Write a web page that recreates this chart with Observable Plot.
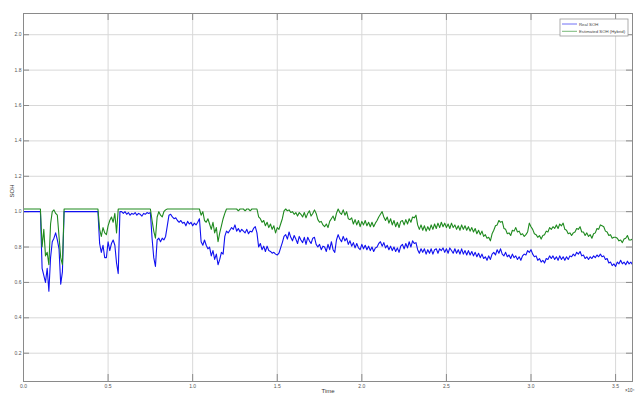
<!DOCTYPE html>
<html><head><meta charset="utf-8">
<script src="https://cdn.jsdelivr.net/npm/d3@7"></script>
<script src="https://cdn.jsdelivr.net/npm/@observablehq/plot@0.6"></script>
<style>
body{margin:0;background:#fff;}
#wrap{position:relative;width:635px;height:394px;overflow:hidden;}
</style></head>
<body><div id="wrap"></div>
<script>
// x axis in units of 10^4 (Time), sampled every 0.01
const xTicks = [0, 0.5, 1, 1.5, 2, 2.5, 3, 3.5];
const yTicks = [0.2, 0.4, 0.6, 0.8, 1, 1.2, 1.4, 1.6, 1.8, 2];
const seriesNames = ["Real SOH", "Estimated SOH (Hybrid)"];

const realSOH = [
 1,1,1,1,1,1,1,1,1,1, 1,
 0.68,0.64,0.60,0.68,0.55,0.74,0.83,0.85,0.88,0.84,0.79,0.59,0.66,
 1,1,1,1,1,1,1,1,1,1,1,1,1,1,1,1,1,1,1,1, 1,
 0.82,0.77,0.81,0.74,0.74,0.83,0.78,0.82,0.84,0.81,0.71,0.65,
 1,1,0.99,1,0.985,0.995,0.98,0.99,0.985,0.995,0.98,0.99,0.985,0.975,0.99,0.985,0.995,0.99,0.995,
 0.85,0.74,0.69,0.84,0.85,0.83,0.85,0.84,0.86,0.92,0.98,
 0.985,0.97,0.96,0.965,0.95,0.94,0.95,0.935,0.94,0.92,0.945,0.93,0.94,0.92,0.935,0.925,0.94,0.96,
 0.83,0.81,0.84,0.81,0.79,0.80,0.75,0.78,0.73,0.76,0.70,0.73,0.77,0.76,0.86,0.89,0.88,
 0.895,0.91,0.90,0.925,0.89,0.905,0.885,0.90,0.89,0.88,0.90,0.875,0.89,0.885,0.905,0.915,0.88,
 0.80,0.82,0.785,0.805,0.775,0.805,0.78,0.775,0.765,0.77,0.76,0.755,0.765,0.795,0.825,0.86,0.87,0.845,0.885,0.855,
 0.835,0.865,0.845,0.82,0.86,0.84,0.825,0.855,0.815,0.855,0.835,0.82,0.85,0.855,0.815,0.80,0.815,0.785,0.805,0.80,
 0.775,0.815,0.785,0.83,0.785,0.77,
 0.84,0.87,0.845,0.83,0.86,0.835,0.85,0.815,0.835,0.805,0.825,0.795,0.82,0.795,0.785,0.815,0.79,0.81,0.785,0.805,
 0.78,0.80,0.775,0.795,0.80,0.82,0.83,0.805,0.825,0.795,0.81,0.785,0.805,0.78,0.80,0.775,0.795,0.77,0.805,
 0.815,0.79,0.82,0.795,0.83,0.80,0.835,0.82,0.825,0.785,
 0.765,0.79,0.77,0.79,0.76,0.785,0.765,0.79,0.76,0.785,
 0.79,0.765,0.79,0.78,0.795,0.77,0.79,0.765,0.795,0.78,
 0.765,0.79,0.765,0.785,0.76,0.79,0.76,0.78,0.755,0.78,
 0.755,0.775,0.75,0.77,0.745,0.765,0.74,0.76,0.735,0.745,
 0.725,0.75,0.73,0.76,0.77,0.755,0.785,0.765,0.79,0.76,
 0.75,0.77,0.745,0.755,0.735,0.76,0.74,0.75,0.73,0.745,
 0.725,0.75,0.76,0.755,0.78,0.77,0.785,0.76,0.745,0.75,
 0.725,0.735,0.715,0.725,0.71,0.735,0.73,0.75,0.735,0.75,
 0.73,0.745,0.725,0.75,0.73,0.745,0.725,0.745,0.73,0.75,
 0.745,0.76,0.75,0.77,0.76,0.775,0.75,0.755,0.735,0.745,
 0.73,0.745,0.735,0.75,0.74,0.755,0.745,0.76,0.745,0.75,
 0.73,0.735,0.71,0.715,0.695,0.705,0.69,0.715,0.705,0.725,
 0.705,0.715,0.70,0.72,0.705,0.715,0.70
];

const estimatedSOH = [
 1.015,1.015,1.015,1.015,1.015,1.015,1.015,1.015,1.015,1.015,1.015,
 0.80,0.90,0.75,0.77,0.70,0.93,1.0,1.01,0.99,0.98,0.86,0.74,0.70,
 1.015,1.015,1.015,1.015,1.015,1.015,1.015,1.015,1.015,1.015,1.015,1.015,1.015,1.015,1.015,1.015,1.015,1.015,1.015,1.015,1.015,
 0.90,0.86,0.91,0.88,0.87,0.92,0.95,0.97,0.94,0.99,0.88,
 1.015,1.015,1.015,1.015,1.015,1.015,1.015,1.015,1.015,1.015,1.015,1.015,1.015,1.015,1.015,1.015,1.015,1.015,1.015,1.015,
 0.95,0.89,0.85,0.97,1.0,0.98,0.97,1.0,1.01,
 1.015,1.015,1.015,1.015,1.015,1.015,1.015,1.015,1.015,1.015,1.015,1.015,1.015,1.015,1.015,1.015,1.015,1.015,1.015,1.015,
 0.98,1.0,0.95,0.94,0.96,0.93,0.90,0.94,0.88,0.91,0.83,0.88,0.92,0.96,0.99,
 1.015,1.015,1.015,1.015,1.015,1.015,1.015,1.005,1.015,1.015,1.015,1.005,1.015,1.015,1.005,1.015,1.015,1.015,1.015,
 0.97,0.96,0.94,0.95,0.92,0.94,0.91,0.93,0.90,0.92,0.88,0.91,0.90,0.93,0.96,1.005,1.015,1.005,1.01,0.995,
 1.0,0.985,0.995,0.975,0.995,0.985,0.97,0.995,0.965,0.99,1.005,0.975,0.99,1.01,0.99,0.955,0.94,0.945,0.925,0.915,
 0.93,0.91,0.945,0.96,0.975,0.95,
 0.99,1.015,0.995,0.985,1.01,0.98,1.0,0.96,0.955,0.965,0.93,0.955,0.925,0.95,0.915,0.945,0.925,0.95,0.92,0.94,
 0.915,0.94,0.915,0.935,0.95,0.97,0.985,1.0,0.97,0.95,0.97,0.935,0.96,0.925,0.95,0.915,0.94,0.91,0.945,
 0.95,0.925,0.955,0.93,0.96,0.94,0.97,0.965,0.98,0.925,
 0.90,0.925,0.895,0.92,0.89,0.915,0.895,0.925,0.90,0.93,
 0.905,0.935,0.91,0.94,0.915,0.935,0.91,0.93,0.905,0.935,
 0.91,0.925,0.90,0.92,0.895,0.925,0.90,0.92,0.895,0.915,
 0.89,0.91,0.885,0.905,0.875,0.895,0.87,0.89,0.86,0.87,
 0.85,0.855,0.835,0.875,0.895,0.92,0.925,0.95,0.94,0.945,
 0.905,0.90,0.875,0.88,0.865,0.895,0.89,0.91,0.885,0.89,
 0.87,0.875,0.86,0.87,0.885,0.935,0.915,0.90,0.875,0.87,
 0.855,0.865,0.845,0.865,0.87,0.89,0.885,0.91,0.90,0.915,
 0.905,0.925,0.905,0.93,0.92,0.935,0.90,0.895,0.875,0.88,
 0.865,0.88,0.885,0.905,0.90,0.915,0.885,0.885,0.865,0.88,
 0.86,0.87,0.85,0.875,0.88,0.905,0.90,0.925,0.92,0.915,
 0.89,0.885,0.865,0.87,0.85,0.855,0.855,0.85,0.835,0.84,
 0.825,0.845,0.85,0.865,0.84,0.84,0.845
];

const step = 0.01;
const realData = realSOH.map((v, i) => ({t: i * step, v}));
const estData = estimatedSOH.map((v, i) => ({t: i * step, v}));

const W = 635, H = 394, mL = 23, mR = 3, mT = 13, mB = 13;
const plotW = W - mL - mR, plotH = H - mT - mB;
const axisColor = "#8a8a8a", gridColor = "#d8d8d8";
const blue = "#1010f0", green = "#1f8a1f";

const chart = Plot.plot({
  width: W, height: H,
  marginLeft: mL, marginRight: mR, marginTop: mT, marginBottom: mB,
  style: {fontFamily: "'Liberation Sans', Arial, sans-serif", background: "#fff"},
  x: {domain: [0, 3.6], axis: null},
  y: {domain: [0.04, 2.12], axis: null},
  marks: [
    Plot.gridX(xTicks, {stroke: gridColor, strokeOpacity: 1}),
    Plot.gridY(yTicks, {stroke: gridColor, strokeOpacity: 1}),
    Plot.tickX(xTicks, {x: d => d, insetTop: plotH - 7, stroke: axisColor}),
    Plot.tickX(xTicks, {x: d => d, insetBottom: plotH - 7, stroke: axisColor}),
    Plot.tickY(yTicks, {y: d => d, insetRight: plotW - 6, stroke: axisColor}),
    Plot.tickY(yTicks, {y: d => d, insetLeft: plotW - 6, stroke: axisColor}),
    Plot.line(realData, {x: "t", y: "v", stroke: blue, strokeWidth: 1.1}),
    Plot.line(estData, {x: "t", y: "v", stroke: green, strokeWidth: 1.1}),
    Plot.frame({stroke: axisColor}),
    Plot.axisX({ticks: xTicks, tickSize: 0, tickPadding: 3, fontSize: 5, label: null, color: "#555"}),
    Plot.axisY({ticks: yTicks, tickSize: 0, tickPadding: 2, fontSize: 5, label: null, color: "#555"}),
    Plot.text(["SOH"], {text: d => d, frameAnchor: "left", dx: -11, rotate: -90, fontSize: 6, fill: "#333"}),
    Plot.text(["Time"], {text: d => d, frameAnchor: "bottom", dy: 11, fontSize: 6, fill: "#333"}),
    Plot.text(["×10⁴"], {text: d => d, frameAnchor: "bottom-right", dy: 10, dx: 2, textAnchor: "end", fontSize: 4.5, fill: "#444"})
  ]
});
document.getElementById("wrap").appendChild(chart);

// legend box (top-right inside the plot)
const svg = d3.select(chart);
const lg = svg.append("g").attr("transform", "translate(560,19)");
lg.append("rect").attr("width", 68).attr("height", 17).attr("fill", "#fff").attr("stroke", "#9a9a9a").attr("stroke-width", 0.8);
const colors = [blue, green];
seriesNames.forEach((name, i) => {
  const y = 5 + i * 7.3;
  lg.append("line").attr("x1", 2).attr("x2", 17).attr("y1", y).attr("y2", y)
    .attr("stroke", colors[i]).attr("stroke-width", 1).attr("stroke-opacity", 0.6);
  lg.append("text").attr("x", 19).attr("y", y).attr("dy", "0.35em")
    .attr("text-anchor", "start")
    .attr("font-size", 4.3).attr("fill", "#444")
    .attr("font-family", "'Liberation Sans', Arial, sans-serif").text(name);
});
</script>
</body></html>
